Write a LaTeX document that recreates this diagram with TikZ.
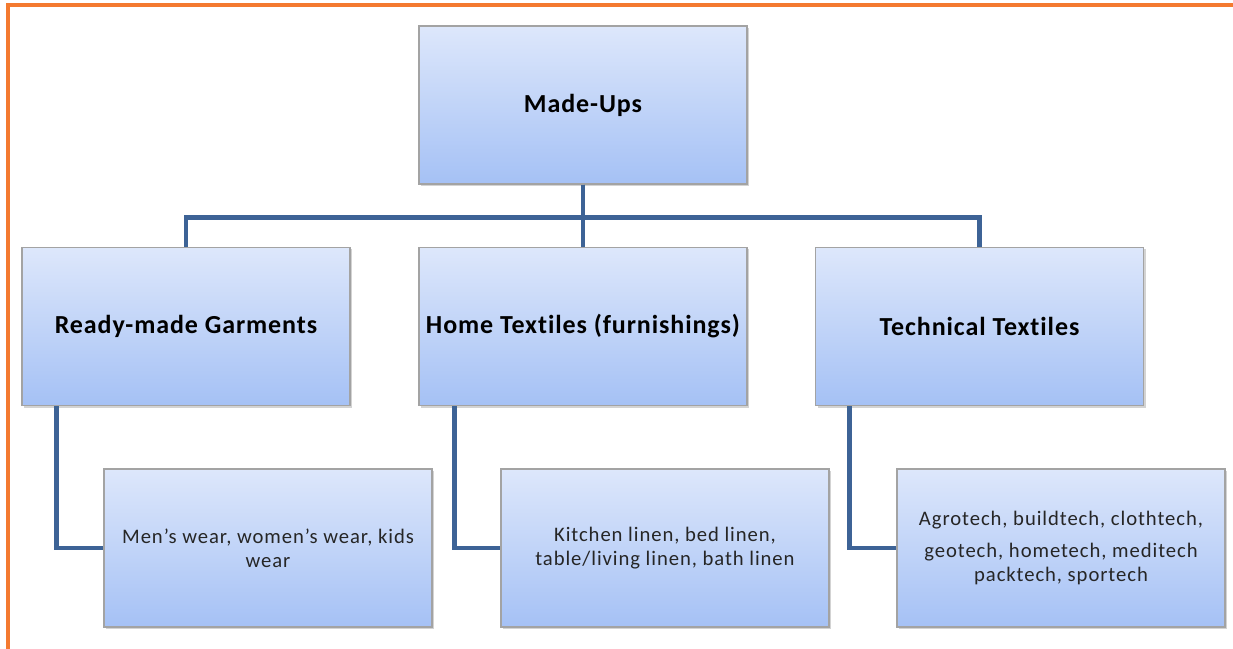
\documentclass[tikz,border=0pt]{standalone}
\usepackage{fontspec}
\setmainfont[Ligatures=NoCommon]{Carlito}
\usetikzlibrary{shadows}
\definecolor{frameorange}{HTML}{F47A30}
\definecolor{linkblue}{HTML}{3D6396}
\definecolor{boxtop}{HTML}{DDE7FB}
\definecolor{boxbottom}{HTML}{A5C1F5}
\definecolor{boxedge}{HTML}{A3A3A3}
\tikzset{
  x=0.75pt, y=-0.75pt,
}
\tikzstyle{box}=[draw=boxedge, line width=0.8pt, top color=boxtop, bottom color=boxbottom,
  minimum width=246pt, minimum height=118.5pt, align=center, inner sep=0pt,
  drop shadow={opacity=0.35, shadow xshift=1.5pt, shadow yshift=-1.5pt}]
\tikzstyle{headbox}=[box, font=\fontsize{19.5}{23}\selectfont\bfseries\addfontfeature{LetterSpace=3.5}]
\tikzstyle{itembox}=[box, text=black!85, font=\fontsize{15.5}{18}\selectfont\addfontfeature{LetterSpace=4.5}]
\tikzstyle{link}=[linkblue, line width=3.6pt]

\begin{document}
\begin{tikzpicture}
    \useasboundingbox (0,0) rectangle (1233,649);
    \draw[frameorange, line width=3pt] (8,649) -- (8,5) -- (1233,5);
    \node[headbox] (mu) at (583,105) {Made-Ups};
    \node[headbox] (rmg) at (186,326.5) {Ready-made Garments};
    \node[headbox] (ht) at (583,326.5) {Home Textiles (furnishings)};
    \node[headbox] (tt) at (979.5,326.5) {Technical Textiles};
    \node[itembox] (mw) at (268,548) {Men's wear, women's wear, kids\\wear};
    \node[itembox] (kl) at (665,548) {Kitchen linen, bed linen,\\table/living linen, bath linen};
    \node[itembox] (ag) at (1061,548) {Agrotech, buildtech, clothtech,\\[6pt]geotech, hometech, meditech\\packtech, sportech};
    \draw[link] (mu.south) -- (ht.north);
    \draw[link] (mu.south) -- ++(0,33) -| (rmg.north);
    \draw[link] (mu.south) -- ++(0,33) -| (tt.north);
    \draw[link] ([xshift=26pt]rmg.south west) |- (mw.west);
    \draw[link] ([xshift=27pt]ht.south west) |- (kl.west);
    \draw[link] ([xshift=26pt]tt.south west) |- (ag.west);
  \end{tikzpicture}
\end{document}
